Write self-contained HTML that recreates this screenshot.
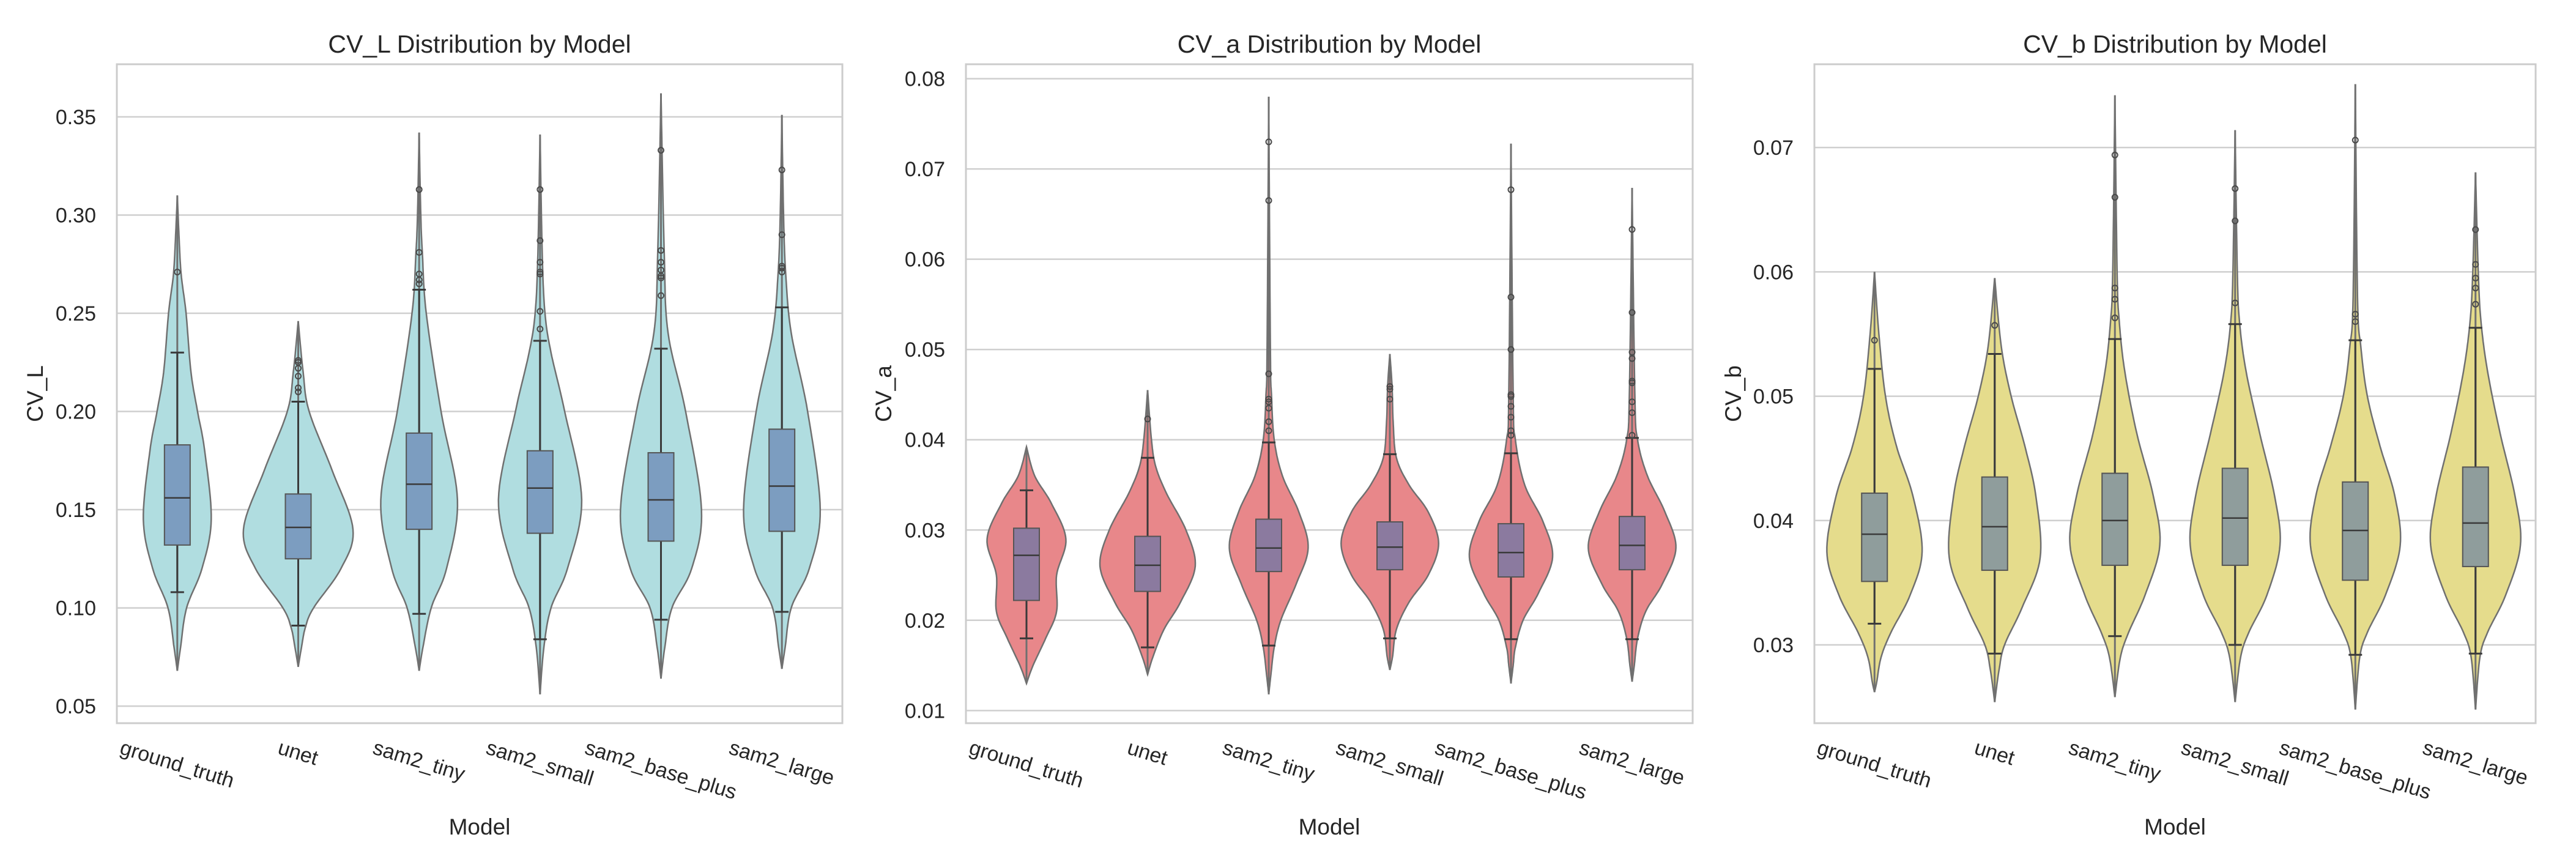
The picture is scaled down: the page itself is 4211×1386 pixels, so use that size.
<!DOCTYPE html>
<html><head><meta charset="utf-8"><style>
html,body{margin:0;padding:0;background:#fff;}
svg{display:block;font-family:"Liberation Sans",Arial,sans-serif;}
</style></head><body>
<svg id="chart" width="4211" height="1386" viewBox="0 0 4211 1386" xmlns="http://www.w3.org/2000/svg"></svg>
<script>
const categories = ["ground_truth","unet","sam2_tiny","sam2_small","sam2_base_plus","sam2_large"];
const panelTitles = ["CV_L Distribution by Model","CV_a Distribution by Model","CV_b Distribution by Model"];
const yLabels = ["CV_L","CV_a","CV_b"];
const ticksL = [0.05,0.10,0.15,0.20,0.25,0.30,0.35];
const ticksA = [0.01,0.02,0.03,0.04,0.05,0.06,0.07,0.08];
const ticksB = [0.03,0.04,0.05,0.06,0.07];
const tickLabelsL = ["0.05","0.10","0.15","0.20","0.25","0.30","0.35"];
const tickLabelsA = ["0.01","0.02","0.03","0.04","0.05","0.06","0.07","0.08"];
const tickLabelsB = ["0.03","0.04","0.05","0.06","0.07"];
const yDomL = [0.0413, 0.3768];
const yDomA = [0.0086, 0.0816];
const yDomB = [0.0237, 0.0767];

// box stats: [whiskerLo, q1, median, q3, whiskerHi]
const boxL = [[0.108,0.132,0.156,0.183,0.230],[0.091,0.125,0.141,0.158,0.205],[0.097,0.140,0.163,0.189,0.262],[0.084,0.138,0.161,0.180,0.236],[0.094,0.134,0.155,0.179,0.232],[0.098,0.139,0.162,0.191,0.253]];
const boxA = [[0.0180,0.0222,0.0272,0.0302,0.0344],[0.0170,0.0232,0.0261,0.0293,0.0380],[0.0172,0.0254,0.0280,0.0312,0.0397],[0.0180,0.0256,0.0281,0.0309,0.0384],[0.0179,0.0248,0.0275,0.0307,0.0385],[0.0179,0.0256,0.0283,0.0315,0.0402]];
const boxB = [[0.0317,0.0351,0.0389,0.0422,0.0522],[0.0293,0.0360,0.0395,0.0435,0.0534],[0.0307,0.0364,0.0400,0.0438,0.0546],[0.0300,0.0364,0.0402,0.0442,0.0558],[0.0292,0.0352,0.0392,0.0431,0.0545],[0.0293,0.0363,0.0398,0.0443,0.0555]];

const outL = [[0.271],[0.210,0.212,0.218,0.222,0.225,0.226],[0.265,0.267,0.270,0.281,0.313],[0.242,0.251,0.270,0.271,0.276,0.287,0.313],[0.259,0.268,0.269,0.272,0.276,0.282,0.333],[0.271,0.273,0.274,0.290,0.323]];
const outA = [[],[0.0423],[0.041,0.042,0.0435,0.0442,0.0445,0.0473,0.0665,0.073],[0.0445,0.0456,0.0459],[0.0405,0.041,0.0425,0.0437,0.0448,0.045,0.050,0.0558,0.0677],[0.0405,0.043,0.0442,0.0463,0.0465,0.049,0.0497,0.0541,0.0633]];
const outB = [[0.0545],[0.0557],[0.0563,0.0578,0.0587,0.066,0.0694],[0.0575,0.0641,0.0667],[0.056,0.0566,0.0706],[0.0574,0.0587,0.0595,0.0606,0.0634]];

// violin density profiles: [value, relative half-width]
const densL = [
 [[0.068,0],[0.08,0.06],[0.10,0.17],[0.12,0.45],[0.145,0.62],[0.18,0.5],[0.20,0.37],[0.22,0.25],[0.25,0.16],[0.27,0.07],[0.29,0.03],[0.31,0]],
 [[0.070,0],[0.08,0.06],[0.09,0.13],[0.10,0.28],[0.12,0.78],[0.14,1.0],[0.17,0.62],[0.20,0.2],[0.22,0.09],[0.246,0]],
 [[0.068,0],[0.08,0.07],[0.10,0.22],[0.12,0.5],[0.155,0.7],[0.20,0.4],[0.25,0.13],[0.28,0.06],[0.30,0.03],[0.342,0]],
 [[0.056,0],[0.08,0.07],[0.10,0.2],[0.12,0.5],[0.155,0.76],[0.20,0.45],[0.23,0.2],[0.25,0.09],[0.28,0.04],[0.341,0]],
 [[0.064,0],[0.08,0.07],[0.10,0.2],[0.12,0.56],[0.15,0.74],[0.20,0.45],[0.24,0.13],[0.28,0.06],[0.362,0]],
 [[0.069,0],[0.08,0.06],[0.10,0.17],[0.12,0.5],[0.15,0.7],[0.20,0.47],[0.24,0.17],[0.27,0.07],[0.30,0.03],[0.351,0]]
];
const densA = [
 [[0.0130,0],[0.015,0.12],[0.018,0.35],[0.021,0.55],[0.025,0.55],[0.029,0.72],[0.033,0.45],[0.036,0.15],[0.0392,0]],
 [[0.0140,0],[0.016,0.1],[0.019,0.3],[0.022,0.6],[0.026,0.87],[0.030,0.7],[0.034,0.35],[0.037,0.15],[0.040,0.07],[0.0455,0]],
 [[0.0118,0],[0.014,0.04],[0.017,0.1],[0.020,0.22],[0.024,0.5],[0.028,0.72],[0.032,0.55],[0.036,0.25],[0.040,0.1],[0.045,0.05],[0.050,0.03],[0.078,0]],
 [[0.0145,0],[0.016,0.05],[0.019,0.12],[0.022,0.35],[0.025,0.7],[0.0285,0.89],[0.032,0.7],[0.035,0.35],[0.038,0.12],[0.042,0.06],[0.046,0.04],[0.0495,0]],
 [[0.0130,0],[0.015,0.04],[0.017,0.08],[0.020,0.22],[0.023,0.5],[0.027,0.76],[0.031,0.58],[0.035,0.25],[0.040,0.08],[0.045,0.04],[0.0728,0]],
 [[0.0132,0],[0.015,0.04],[0.018,0.1],[0.021,0.25],[0.024,0.55],[0.028,0.8],[0.032,0.6],[0.036,0.28],[0.040,0.1],[0.045,0.05],[0.0679,0]]
];
const densB = [
 [[0.0262,0],[0.027,0.04],[0.029,0.12],[0.031,0.3],[0.034,0.65],[0.0375,0.87],[0.042,0.7],[0.046,0.4],[0.050,0.2],[0.055,0.08],[0.060,0]],
 [[0.0254,0],[0.028,0.08],[0.030,0.18],[0.033,0.5],[0.037,0.83],[0.042,0.75],[0.046,0.55],[0.050,0.3],[0.054,0.12],[0.0595,0]],
 [[0.0258,0],[0.029,0.1],[0.031,0.25],[0.034,0.55],[0.038,0.82],[0.042,0.7],[0.047,0.4],[0.052,0.18],[0.056,0.08],[0.060,0.04],[0.0742,0]],
 [[0.0254,0],[0.029,0.1],[0.031,0.25],[0.034,0.58],[0.038,0.82],[0.042,0.72],[0.047,0.45],[0.052,0.2],[0.056,0.08],[0.060,0.04],[0.0714,0]],
 [[0.0248,0],[0.029,0.08],[0.031,0.22],[0.034,0.55],[0.038,0.82],[0.042,0.72],[0.046,0.45],[0.050,0.22],[0.054,0.1],[0.058,0.04],[0.0751,0]],
 [[0.0248,0],[0.029,0.08],[0.031,0.22],[0.034,0.55],[0.038,0.82],[0.042,0.72],[0.047,0.45],[0.052,0.22],[0.056,0.1],[0.060,0.05],[0.068,0]]
];

const NS = "http://www.w3.org/2000/svg";
const svg = document.getElementById("chart");
function mk(tag, attrs, parent){
  const e = document.createElementNS(NS, tag);
  for (const k in attrs) e.setAttribute(k, attrs[k]);
  (parent||svg).appendChild(e);
  return e;
}
const panels = [
  {x0:191,x1:1377,ylabX:58,ticks:ticksL,tl:tickLabelsL,dom:yDomL,box:boxL,out:outL,dens:densL,fill:"#b0dde0",boxFill:"#7c9dc0",name:"cv-l"},
  {x0:1579,x1:2767,ylabX:1445,ticks:ticksA,tl:tickLabelsA,dom:yDomA,box:boxA,out:outA,dens:densA,fill:"#e8878a",boxFill:"#8b7a9f",name:"cv-a"},
  {x0:2966,x1:4145,ylabX:2834,ticks:ticksB,tl:tickLabelsB,dom:yDomB,box:boxB,out:outB,dens:densB,fill:"#e5dc8c",boxFill:"#8f9d9c",name:"cv-b"}
];
const Y0 = 105, Y1 = 1182, WMAX = 89.5;

panels.forEach((p, pi) => {
  const g = mk("g", {});
  
  
  const yS = v => Y1 - (v - p.dom[0]) / (p.dom[1] - p.dom[0]) * (Y1 - Y0);
  const bw = (p.x1 - p.x0) / categories.length;
  const xS = i => p.x0 + bw * (i + 0.5);
  p.ticks.forEach((t, i) => {
    const y = yS(t);
    const gl = mk("line", {x1:p.x0, x2:p.x1, y1:y, y2:y, stroke:"#cfcfcf", "stroke-width":2.5}, g);
    
    
    const tx = mk("text", {x:p.x0-34, y:y+12, "text-anchor":"end", "font-size":34, fill:"#262626"}, g);
    tx.textContent = p.tl[i];
    
    
  });
  categories.forEach((c, i) => {
    const cx = xS(i);
    const d = p.dens[i];
    const pts = d.map(q => [q[1]*WMAX, yS(q[0])]);
    const sm = [];
    for (let k = 0; k < pts.length - 1; k++) {
      const p0 = pts[Math.max(0,k-1)], p1 = pts[k], p2 = pts[k+1], p3 = pts[Math.min(pts.length-1,k+2)];
      for (let s = 0; s < 12; s++) {
        const t = s/12, t2 = t*t, t3 = t2*t;
        const f = (a,b,c2,d2) => 0.5*((2*b)+(-a+c2)*t+(2*a-5*b+4*c2-d2)*t2+(-a+3*b-3*c2+d2)*t3);
        sm.push([Math.max(0,f(p0[0],p1[0],p2[0],p3[0])), f(p0[1],p1[1],p2[1],p3[1])]);
      }
    }
    sm.push(pts[pts.length-1]);
    let path = "M" + sm.map(q => (cx+q[0]).toFixed(1)+","+q[1].toFixed(1)).join(" L");
    path += " L" + sm.slice().reverse().map(q => (cx-q[0]).toFixed(1)+","+q[1].toFixed(1)).join(" L") + " Z";
    const v = mk("path", {d:path, fill:p.fill, stroke:"#707070", "stroke-width":2.5}, g);
    
    
    const vl = mk("line", {x1:cx, x2:cx, y1:yS(d[0][0]), y2:yS(d[d.length-1][0]), stroke:"#707070", "stroke-width":3}, g);
    
    
    const b = p.box[i];
    const wl = mk("line", {x1:cx, x2:cx, y1:yS(b[0]), y2:yS(b[4]), stroke:"#3a3a3a", "stroke-width":3}, g);
    
    
    [b[0], b[4]].forEach(w => {
      const cap = mk("line", {x1:cx-11, x2:cx+11, y1:yS(w), y2:yS(w), stroke:"#3a3a3a", "stroke-width":3}, g);
      
      
    });
    const rect = mk("rect", {x:cx-21, width:42, y:yS(b[3]), height:yS(b[1])-yS(b[3]), fill:p.boxFill, stroke:"#555", "stroke-width":2}, g);
    
    
    const md = mk("line", {x1:cx-21, x2:cx+21, y1:yS(b[2]), y2:yS(b[2]), stroke:"#3a3a3a", "stroke-width":2.5}, g);
    
    
    p.out[i].forEach(o => {
      const oc = mk("circle", {cx:cx, cy:yS(o), r:4.5, fill:"none", stroke:"#4a4a4a", "stroke-width":2}, g);
      
      
    });
    const lt = mk("text", {"font-size":34, fill:"#262626", "text-anchor":"middle"}, g);
    lt.textContent = c;
    
    
    const w = lt.getComputedTextLength();
    const a = 17 * Math.PI/180;
    const yc = 1220 + (w/2)*Math.sin(a) + 12;
    lt.setAttribute("x", cx); lt.setAttribute("y", yc);
    lt.setAttribute("transform", "rotate(17 " + cx + " " + (yc-12) + ")");
  });
  const fr = mk("rect", {x:p.x0, y:Y0, width:p.x1-p.x0, height:Y1-Y0, fill:"none", stroke:"#cccccc", "stroke-width":3}, g);
  
  
  const tt = mk("text", {x:(p.x0+p.x1)/2, y:86, "text-anchor":"middle", "font-size":41, fill:"#262626"}, g);
  tt.textContent = panelTitles[pi];
  
  
  const yl = mk("text", {x:p.ylabX+12, y:(Y0+Y1)/2, "text-anchor":"middle", "font-size":37, fill:"#262626", transform:"rotate(-90 "+(p.ylabX+12)+" "+((Y0+Y1)/2)+")"}, g);
  yl.textContent = yLabels[pi];
  
  
  const xl = mk("text", {x:(p.x0+p.x1)/2, y:1364, "text-anchor":"middle", "font-size":37, fill:"#262626"}, g);
  xl.textContent = "Model";
  
  
});
</script>
</body></html>
